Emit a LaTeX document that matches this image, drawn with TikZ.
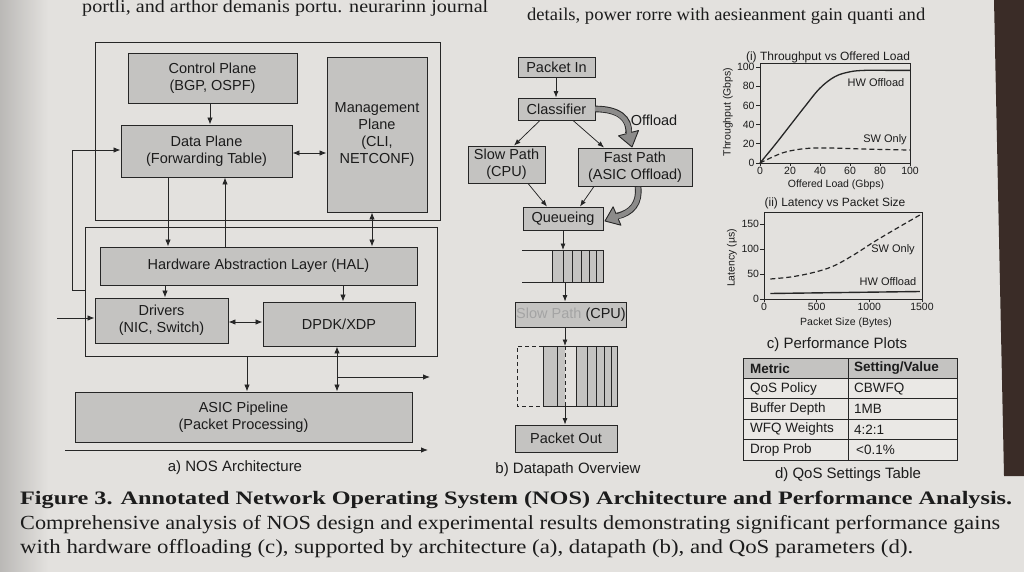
\documentclass[tikz,border=0pt]{standalone}
\usepackage{fontspec}
\setmainfont{Liberation Sans}
\newfontfamily\serifpage{Liberation Serif}
\usepackage{graphicx}
\usetikzlibrary{arrows.meta,calc}
\definecolor{pagebg}{HTML}{E3E1DE}
\definecolor{boxfill}{HTML}{C4C3C1}
\definecolor{linec}{HTML}{262626}
\definecolor{textc}{HTML}{1C1C1C}
\definecolor{thickgrey}{HTML}{8C8B8A}
\definecolor{rowfill}{HTML}{EAE8E5}
\definecolor{darkedge}{HTML}{3A2C27}
\newcommand\setfs[2]{\fontsize{#1}{#2}\selectfont}
\begin{document}
\begin{tikzpicture}[x=1pt,y=-1pt,
  box/.style={draw=linec, fill=boxfill, line width=0.9pt, inner sep=1pt, align=center, font=\setfs{14.5}{17}, text=textc},
  outerbox/.style={draw=linec, line width=0.9pt, inner sep=0pt},
  arr/.style={draw=linec, line width=0.85pt, -{Latex[length=7pt,width=5.5pt]}},
  darr/.style={draw=linec, line width=0.85pt, {Latex[length=7pt,width=5.5pt]}-{Latex[length=7pt,width=5.5pt]}},
  barr/.style={draw=linec, line width=0.75pt, -{Latex[length=6.5pt,width=5pt]}},
  subcap/.style={font=\setfs{15}{17}, text=textc, inner sep=0pt},
  plottitle/.style={font=\setfs{12}{14}, text=textc, inner sep=0pt},
  ticklab/.style={font=\setfs{10.5}{12}, text=textc, inner sep=0pt},
  axlab/.style={font=\setfs{10.5}{12}, text=textc, inner sep=0pt},
  curvelab/.style={font=\setfs{11}{13}, text=textc, inner sep=0pt},
  celltext/.style={font=\setfs{13.5}{15}, text=textc, inner sep=0pt, anchor=west},
  thk/.style={line width=6.6pt, draw=linec},
  thkin/.style={line width=4.8pt, draw=thickgrey},
  tiptri/.style={fill=thickgrey, draw=linec, line width=0.9pt, line join=round}
]
\useasboundingbox (0,0) rectangle (1024,572);
\clip (0,0) rectangle (1024,572);
% page
\fill[pagebg] (0,0) rectangle (1024,572);
\shade[left color=black!18!pagebg, right color=pagebg] (0,0) rectangle (48,572);
\fill[darkedge] (994,0) -- (1024,0) -- (1024,476) -- (1004,476) -- cycle;

% running text of the page
\node[anchor=base west, inner sep=0pt, text=textc] (run1) at (82,13)
  {\resizebox{406pt}{\height}{\serifpage\setfs{18}{18}portli, and arthor demanis portu. neurarinn journal}};
\node[anchor=base west, inner sep=0pt, text=textc] (run2) at (527,21)
  {\resizebox{398pt}{\height}{\serifpage\setfs{18}{18}details, power rorre with aesieanment gain quanti and}};

% ================= a) NOS architecture
\node[outerbox, minimum width=345pt, minimum height=178pt] (lay1) at (267.5,131) {};
\node[outerbox, minimum width=352pt, minimum height=129pt] (lay2) at (261,291.5) {};

\node[box, minimum width=169pt, minimum height=50pt] (cp) at (212.5,78) {Control Plane\\(BGP, OSPF)};
\node[box, minimum width=171pt, minimum height=52pt] (dp) at (206.5,151) {Data Plane\\(Forwarding Table)};
\node[box, minimum width=100pt, minimum height=155pt] (mp) at (377,134.5) {Management\\Plane\\(CLI,\\NETCONF)};
\node[box, minimum width=317pt, minimum height=38pt] (hal) at (258.5,266) {Hardware Abstraction Layer (HAL)};
\node[box, minimum width=133pt, minimum height=45pt] (drv) at (161.5,320.5) {Drivers\\(NIC, Switch)};
\node[box, minimum width=152pt, minimum height=44pt] (dpdk) at (339,324) {DPDK/XDP};
\node[box, minimum width=337pt, minimum height=50pt] (asic) at (243.5,417) {ASIC Pipeline\\(Packet Processing)};

\draw[arr] (cp.south -| 210,0) -- (dp.north -| 210,0);
\draw[darr] (dp.east |- 0,153) -- (mp.west |- 0,153);
\draw[arr] (lay2.west |- 0,290) -- (72,290) -- (72,150) -- (dp.west |- 0,150);
\draw[arr] (dp.south -| 168,0) -- (hal.north -| 168,0);
\draw[arr] (hal.north -| 225,0) -- (dp.south -| 225,0);
\draw[darr] (mp.south -| 372,0) -- (hal.north -| 372,0);
\draw[arr] (hal.south -| 165,0) -- (drv.north -| 165,0);
\draw[arr] (hal.south -| 343,0) -- (dpdk.north -| 343,0);
\draw[darr] (drv.east |- 0,322) -- (dpdk.west |- 0,322);
\coordinate (inL) at (57,318);
\draw[arr] (inL) -- (drv.west |- inL);
\draw[arr] (lay2.south -| 247,0) -- (asic.north -| 247,0);
\draw[darr] (dpdk.south -| 337,0) -- (asic.north -| 337,0);
\coordinate (br) at (337,377);
\coordinate (outR) at (430,377);
\draw[arr] (br) -- (outR);
\coordinate (busL) at (65,450);
\coordinate (busR) at (428,450);
\draw[arr] (busL) -- (busR);
\node[subcap] (capa) at (235,468) {a) NOS Architecture};

% ================= b) Datapath overview
\node[box, minimum width=77pt, minimum height=20pt] (pin) at (556.5,67) {Packet In};
\node[box, minimum width=77pt, minimum height=22pt] (cls) at (556.5,109) {Classifier};
\node[box, minimum width=77pt, minimum height=37pt] (slow) at (506.5,164.5) {Slow Path\\(CPU)};
\node[box, minimum width=114pt, minimum height=38pt] (fast) at (635,167) {Fast Path\\(ASIC Offload)};
\node[box, minimum width=80pt, minimum height=23pt] (que) at (563,218.5) {Queueing};
\node[box, minimum width=108pt, minimum height=25pt] (slow2) at (571,314.5) {{\color{textc!40}Slow Path} (CPU)};
\node[box, minimum width=102pt, minimum height=27pt] (pout) at (566,438.5) {Packet Out};

\draw[barr] (pin.south -| 556,0) -- (cls.north -| 556,0);
\draw[barr] (cls.south -| 540,0) -- (slow.north -| 514,0);
\draw[barr] (cls.south -| 573,0) -- (fast.north -| 604,0);
\draw[barr] (slow.south -| 528,0) -- (que.north -| 547,0);
\draw[barr] (fast.south -| 594,0) -- (que.north -| 580,0);

% thick offload arrows
\draw[thk] (cls.east) .. controls (618,109) and (630,118) .. (628.5,133);
\filldraw[tiptri] (632,147) -- (638.5,130.5) -- (618.5,135.8) -- cycle;
\draw[thkin] (cls.east) ++(-0.5,0) .. controls (618,109) and (630,118) .. (629,135);
\node[font=\setfs{14.5}{17}, text=textc, inner sep=0pt] (offl) at (654,120) {Offload};

\draw[thk] (fast.south -| 638,0) .. controls (640,203) and (632,213) .. (617,216);
\filldraw[tiptri] (605,221) -- (620.9,225.2) -- (613.1,206.8) -- cycle;
\draw[thkin] ($(fast.south -| 638,0)+(0,0.5)$) .. controls (640,203) and (632,213) .. (615,217);

% queue 1
\fill[boxfill] (552,250) rectangle (603,282);
\draw[linec, line width=0.8pt] (522,250) -- (603,250) -- (603,282) -- (522,282);
\foreach \xx in {552,563,572,581,589,596} \draw[linec, line width=0.8pt] (\xx,250) -- (\xx,282);
\coordinate (q1in) at (563,250);
\coordinate (q1out) at (565,282);
\draw[barr] (que.south -| 563,0) -- (q1in);
\draw[barr] (q1out) -- (slow2.north -| 565,0);

% queue 2
\fill[boxfill] (543,346) rectangle (565,406);
\fill[boxfill] (576,346) rectangle (617,406);
\draw[linec, line width=0.8pt, dash pattern=on 4pt off 3pt] (543,346) -- (517,346) -- (517,406) -- (543,406);
\draw[linec, line width=0.8pt, dash pattern=on 4pt off 3pt] (565,346) -- (565,406);
\draw[linec, line width=0.8pt] (543,346) -- (617,346) -- (617,406) -- (543,406) -- cycle;
\foreach \xx in {557,576,587,596,604,611} \draw[linec, line width=0.8pt] (\xx,346) -- (\xx,406);
\coordinate (q2in) at (565,346);
\coordinate (q2out) at (565,406);
\draw[barr] (slow2.south -| 565,0) -- (q2in);
\draw[barr] (q2out) -- (pout.north -| 565,0);
\node[subcap] (capb) at (568,470) {b) Datapath Overview};

% ================= c) Performance plots
\node[plottitle] (t1) at (828,57) {(i) Throughput vs Offered Load};
\begin{scope}[shift={(760,163)}, x=1.5pt, y=0.96pt]
  \draw[linec, line width=0.8pt] (0,0) rectangle (100,104.2);
  \foreach \yy in {0,20,40,60,80,100} {
    \draw[linec, line width=0.7pt] (0,\yy) -- (-2.5,\yy);
    \node[ticklab, anchor=east] at (-3.5,\yy) {\yy};
  }
  \foreach \xx in {0,20,40,60,80,100} {
    \draw[linec, line width=0.7pt] (\xx,0) -- (\xx,-3);
    \node[ticklab, anchor=north] at (\xx,-4) {\xx};
  }
  \draw[linec, line width=1.3pt] plot[smooth, tension=0.6] coordinates {(0,0) (10,19) (20,39) (30,59) (40,78) (50,90) (60,95) (70,96.5) (85,96.5) (100,96.5)};
  \draw[linec, line width=1.2pt, dash pattern=on 5pt off 3pt] plot[smooth, tension=0.6] coordinates {(0,0) (8,6) (16,11) (25,14) (35,15.5) (50,15.5) (70,14.5) (100,13.5)};
\end{scope}
\node[curvelab] (hw1) at (876,83) {HW Offload};
\node[curvelab] (sw1) at (885,140) {SW Only};
\node[axlab, rotate=90] (yl1) at (728,112) {Throughput (Gbps)};
\node[axlab] (xl1) at (836,185) {Offered Load (Gbps)};

\node[plottitle] (t2) at (835,203) {(ii) Latency vs Packet Size};
\begin{scope}[shift={(764,299)}, x=0.1053pt, y=0.5pt]
  \draw[linec, line width=0.8pt] (0,0) rectangle (1500,174);
  \foreach \yy in {0,50,100,150} {
    \draw[linec, line width=0.7pt] (0,\yy) -- (-35,\yy);
    \node[ticklab, anchor=east] at (-45,\yy) {\yy};
  }
  \foreach \xx in {0,500,1000,1500} {
    \draw[linec, line width=0.7pt] (\xx,0) -- (\xx,-6);
    \node[ticklab, anchor=north] at (\xx,-8) {\xx};
  }
  \draw[linec, line width=1.2pt, dash pattern=on 5pt off 3pt] plot[smooth, tension=0.6] coordinates {(60,40) (250,44) (450,52) (650,65) (850,88) (1050,115) (1250,140) (1480,168)};
  \draw[linec, line width=1.4pt] (60,11) -- (1480,15);
\end{scope}
\node[curvelab] (sw2) at (893,250) {SW Only};
\node[curvelab] (hw2) at (888,282) {HW Offload};
\node[axlab, rotate=90] (yl2) at (732,258) {Latency (µs)};
\node[axlab] (xl2) at (846,323) {Packet Size (Bytes)};
\node[subcap] (capc) at (837,345) {c) Performance Plots};

% ================= d) QoS table
\fill[boxfill] (743,358) rectangle (957,378.4);
\fill[rowfill] (743,378.4) rectangle (957,460);
\draw[linec, line width=0.9pt] (743,358) rectangle (957,460);
\draw[linec, line width=0.9pt] (848,358) -- (848,460);
\foreach \yy in {378.4,398.8,419.2,439.6} \draw[linec, line width=0.9pt] (743,\yy) -- (957,\yy);
\node[celltext, font=\bfseries\setfs{13.5}{15}] (h1) at (750,368.2) {Metric};
\node[celltext, font=\bfseries\setfs{13.5}{15}] (h2) at (854,368.2) {Setting/Value};
\node[celltext] (r1a) at (750,388.6) {QoS Policy};
\node[celltext] (r1b) at (854,388.6) {CBWFQ};
\node[celltext] (r2a) at (750,409) {Buffer Depth};
\node[celltext] (r2b) at (854,409) {1MB};
\node[celltext] (r3a) at (750,429.4) {WFQ Weights};
\node[celltext] (r3b) at (854,429.4) {4:2:1};
\node[celltext] (r4a) at (750,449.8) {Drop Prob};
\node[celltext] (r4b) at (856,449.8) {<0.1\%};
\node[subcap] (capd) at (848,475) {d) QoS Settings Table};

% ================= caption
\node[anchor=base west, inner sep=0pt, text=textc] (fig1) at (20,504)
  {\resizebox{992pt}{\height}{\serifpage\bfseries\setfs{19}{20}Figure 3. Annotated Network Operating System (NOS) Architecture and Performance Analysis.}};
\node[anchor=base west, inner sep=0pt, text=textc] (fig2) at (20,529)
  {\resizebox{980pt}{\height}{\serifpage\setfs{20}{20}Comprehensive analysis of NOS design and experimental results demonstrating significant performance gains}};
\node[anchor=base west, inner sep=0pt, text=textc] (fig3) at (20,553)
  {\resizebox{893pt}{\height}{\serifpage\setfs{20}{20}with hardware offloading (c), supported by architecture (a), datapath (b), and QoS parameters (d).}};
\end{tikzpicture}
\end{document}
